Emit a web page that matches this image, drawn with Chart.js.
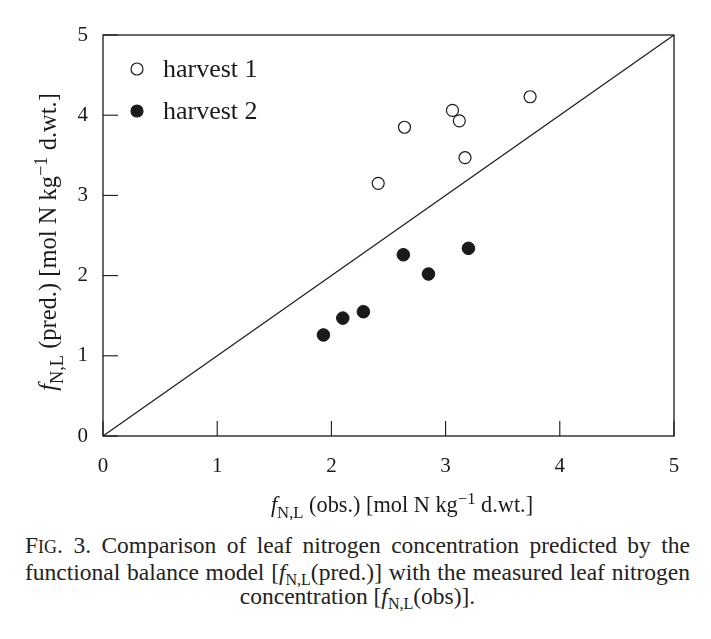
<!DOCTYPE html>
<html>
<head>
<meta charset="utf-8">
<script src="https://cdn.jsdelivr.net/npm/chart.js@4.4.1/dist/chart.umd.min.js"></script>
<style>
  html, body { margin: 0; padding: 0; background: #fff; }
  #wrap { position: relative; width: 711px; height: 520px; }
  #caption {
    position: absolute; left: 25px; top: 533px; width: 665px;
    font-family: "Liberation Serif", "DejaVu Serif", serif;
    font-size: 23.5px; line-height: 24.5px; color: #222;
  }
  #caption .j { text-align: justify; text-align-last: justify; }
  #caption .c { text-align: center; }
  .sc { font-size: 18px; }
  sub { font-size: 16px; vertical-align: -5px; line-height: 0; }
</style>
</head>
<body>
<div id="wrap"><canvas id="chart" width="711" height="520"></canvas></div>
<div id="caption">
  <div class="j">F<span class="sc">IG</span>. 3. Comparison of leaf nitrogen concentration predicted by the</div>
  <div class="j">functional balance model [<i>f</i><sub>N,L</sub>(pred.)] with the measured leaf nitrogen</div>
  <div class="c">concentration [<i>f</i><sub>N,L</sub>(obs)].</div>
</div>
<script>
// ---------- Data ----------
const axisTicks = [0, 1, 2, 3, 4, 5];
const harvest1Obs = [2.41, 2.64, 3.06, 3.12, 3.17, 3.74];
const harvest1Pred = [3.15, 3.85, 4.06, 3.93, 3.47, 4.23];
const harvest2Obs = [1.93, 2.10, 2.28, 2.63, 2.85, 3.20];
const harvest2Pred = [1.26, 1.47, 1.55, 2.26, 2.02, 2.34];
const oneToOne = [0, 5];
const legendLabels = ["harvest 1", "harvest 2"];

const SERIF = '"Liberation Serif", "DejaVu Serif", serif';
const INK = "#1a1a1a";

function pts(xs, ys) {
  return xs.map((x, i) => ({ x, y: ys[i] }));
}

// draw text made of segments: {t, it, sub, sup}
function segFont(s, size) {
  const fs = s.sub || s.sup ? size * 0.75 : size;
  return (s.it ? "italic " : "") + fs + "px " + SERIF;
}
function richWidth(ctx, segs, size) {
  let w = 0;
  segs.forEach((s) => {
    ctx.font = segFont(s, size);
    w += ctx.measureText(s.t).width;
  });
  return w;
}
function drawRich(ctx, segs, x, y, size) {
  let cx = x;
  segs.forEach((s) => {
    ctx.font = segFont(s, size);
    const dy = s.sub ? size * 0.28 : s.sup ? -size * 0.38 : 0;
    ctx.fillText(s.t, cx, y + dy);
    cx += ctx.measureText(s.t).width;
  });
}

const xTitle = [
  { t: "f", it: true }, { t: "N,L", sub: true }, { t: " (obs.) [mol N kg" },
  { t: "\u22121", sup: true }, { t: " d.wt.]" }
];
const yTitle = [
  { t: "f", it: true }, { t: "N,L", sub: true }, { t: " (pred.) [mol N kg" },
  { t: "\u22121", sup: true }, { t: " d.wt.]" }
];

// ---------- Frame, inside ticks, titles, legend ----------
const decor = {
  id: "decor",
  afterDraw(chart) {
    const { ctx, chartArea: a, scales } = chart;
    ctx.save();
    ctx.strokeStyle = INK;
    ctx.lineWidth = 1.3;
    ctx.strokeRect(a.left, a.top, a.right - a.left, a.bottom - a.top);
    ctx.lineWidth = 1.1;
    axisTicks.forEach((v) => {
      const px = scales.x.getPixelForValue(v);
      ctx.beginPath(); ctx.moveTo(px, a.bottom); ctx.lineTo(px, a.bottom - 15); ctx.stroke();
      const py = scales.y.getPixelForValue(v);
      ctx.beginPath(); ctx.moveTo(a.left, py); ctx.lineTo(a.left + 15, py); ctx.stroke();
    });

    ctx.fillStyle = INK;
    ctx.textBaseline = "alphabetic";
    const wx = richWidth(ctx, xTitle, 22.3);
    drawRich(ctx, xTitle, 402 - wx / 2, 512, 22.3);

    ctx.save();
    ctx.translate(56, 242);
    ctx.rotate(-Math.PI / 2);
    const wy = richWidth(ctx, yTitle, 24.5);
    drawRich(ctx, yTitle, -wy / 2, 0, 24.5);
    ctx.restore();

    // legend
    const ds = chart.data.datasets;
    [0, 1].forEach((i) => {
      const ly = a.top + 34 + i * 42;
      const lx = a.left + 34;
      ctx.beginPath();
      ctx.arc(lx, ly, 6, 0, Math.PI * 2);
      ctx.fillStyle = ds[i].backgroundColor;
      ctx.fill();
      ctx.strokeStyle = ds[i].borderColor;
      ctx.lineWidth = 1.2;
      ctx.stroke();
      ctx.fillStyle = INK;
      ctx.font = "26px " + SERIF;
      ctx.textBaseline = "middle";
      ctx.fillText(legendLabels[i], lx + 26, ly + 1);
    });
    ctx.restore();
  }
};

new Chart(document.getElementById("chart"), {
  type: "scatter",
  data: {
    datasets: [
      {
        label: legendLabels[0],
        data: pts(harvest1Obs, harvest1Pred),
        backgroundColor: "#ffffff",
        borderColor: INK,
        borderWidth: 1.2,
        pointRadius: 6,
        pointHoverRadius: 6
      },
      {
        label: legendLabels[1],
        data: pts(harvest2Obs, harvest2Pred),
        backgroundColor: INK,
        borderColor: INK,
        borderWidth: 1,
        pointRadius: 6.3,
        pointHoverRadius: 6.3
      },
      {
        type: "line",
        label: "1:1",
        data: pts(oneToOne, oneToOne),
        borderColor: INK,
        borderWidth: 1.2,
        pointRadius: 0,
        fill: false
      }
    ]
  },
  options: {
    responsive: false,
    animation: false,
    layout: { padding: { top: 35, right: 37, left: 0, bottom: 0 } },
    plugins: { legend: { display: false }, tooltip: { enabled: false } },
    scales: {
      x: {
        type: "linear", min: 0, max: 5,
        afterFit: (s) => { s.height = 84; },
        afterBuildTicks: (s) => { s.ticks = axisTicks.map((v) => ({ value: v })); },
        grid: { display: false },
        border: { display: false },
        ticks: { color: INK, padding: 10, font: { family: SERIF, size: 21 } }
      },
      y: {
        type: "linear", min: 0, max: 5,
        afterFit: (s) => { s.width = 103; },
        afterBuildTicks: (s) => { s.ticks = axisTicks.map((v) => ({ value: v })); },
        grid: { display: false },
        border: { display: false },
        ticks: { color: INK, padding: 7, font: { family: SERIF, size: 21 } }
      }
    }
  },
  plugins: [decor]
});
</script>
</body>
</html>
